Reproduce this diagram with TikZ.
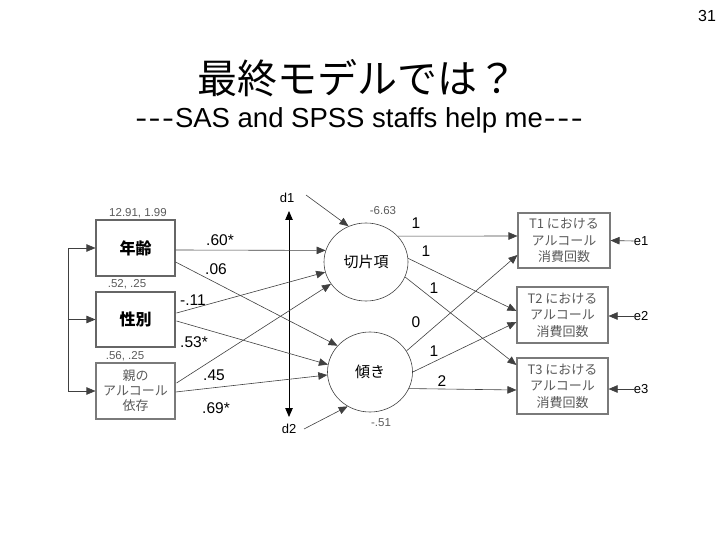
\documentclass[tikz,border=0pt]{standalone}
\usepackage{fontspec}
\setmainfont{Liberation Sans}
\newfontfamily\cjk{Noto Sans CJK JP}
\usetikzlibrary{shapes.geometric,arrows.meta,calc}
\definecolor{boxgray}{HTML}{7A7A7A}
\definecolor{txtgray}{HTML}{5A5A5A}
\definecolor{linegray}{HTML}{404040}
\tikzset{
  obsbox/.style={draw=boxgray,line width=1.1pt,rectangle,inner sep=0pt},
  latent/.style={draw=linegray,line width=0.6pt,ellipse,inner sep=0pt},
  arr/.style={draw=linegray,line width=0.6pt,-{Triangle[length=9pt,width=7.5pt]}},
  dbl/.style={draw=black,line width=0.8pt,{Triangle[length=9pt,width=7.5pt]}-{Triangle[length=9pt,width=7.5pt]}},
  plain/.style={draw=linegray,line width=0.6pt},
  coef/.style={font=\fontsize{15.5}{16}\selectfont,inner sep=0pt},
  small/.style={font=\fontsize{11.5}{12}\selectfont,text=txtgray,inner sep=0pt},
  boxtxt/.style={font=\cjk\fontsize{13}{16.5}\selectfont,text=txtgray,align=center,inner sep=0pt},
  lab/.style={font=\fontsize{13}{14}\selectfont,inner sep=0pt}
}
\newcommand{\tridash}{\scalebox{1.3}[1]{-}\kern1.5pt\scalebox{1.3}[1]{-}\kern1.5pt\scalebox{1.3}[1]{-}}
\begin{document}
\begin{tikzpicture}[x=1pt,y=-1pt]
\useasboundingbox (0,0) rectangle (720,540);
% titles
\node[inner sep=0pt,font=\fontsize{16}{17}\selectfont] (num) at (707,16) {31};
\node[inner sep=0pt,font=\cjk\fontsize{40}{42}\selectfont] (title) at (357,78) {最終モデルでは？};
\node[inner sep=0pt,font=\fontsize{27.5}{30}\selectfont] (sub) at (359,120) {\tridash\kern1pt SAS and SPSS staffs help me\kern1pt\tridash};
% observed exogenous
\node[obsbox,draw=linegray!80,minimum width=79pt,minimum height=56pt,font=\cjk\bfseries\fontsize{16}{17}\selectfont] (age) at (135.5,248) {年齢};
\node[obsbox,draw=linegray!80,minimum width=79pt,minimum height=55pt,font=\cjk\bfseries\fontsize{16}{17}\selectfont] (sex) at (135.5,319.5) {性別};
\node[obsbox,minimum width=79pt,minimum height=56pt,boxtxt,font=\cjk\fontsize{13}{15}\selectfont] (par) at (135.5,391) {親の\\アルコール\\依存};
\node[small] (m1) at (138,213) {12.91, 1.99};
\node[small] (m2) at (127,284) {.52, .25};
\node[small] (m3) at (125,356) {.56, .25};
% latent
\node[latent,minimum width=84pt,minimum height=78pt,font=\cjk\fontsize{15}{16}\selectfont] (int) at (366,262) {切片項};
\node[latent,minimum width=85pt,minimum height=80pt,font=\cjk\fontsize{15}{16}\selectfont] (slope) at (370,372) {傾き};
\node[small] (iv) at (383,211) {-6.63};
\node[small] (sv) at (381,423) {-.51};
% outcomes
\node[obsbox,minimum width=92pt,minimum height=55pt,boxtxt] (T1) at (564,240.5) {T1 における\\アルコール\\消費回数};
\node[obsbox,minimum width=91pt,minimum height=56pt,boxtxt] (T2) at (562.5,315) {T2 における\\アルコール\\消費回数};
\node[obsbox,minimum width=91pt,minimum height=56pt,boxtxt] (T3) at (562.5,386) {T3 における\\アルコール\\消費回数};
\node[lab] (e1) at (641,241) {e1};
\node[lab] (e2) at (641,316) {e2};
\node[lab] (e3) at (641,389) {e3};
\node[lab] (d1) at (287,198) {d1};
\node[lab] (d2) at (289,429) {d2};
% left bracket
\coordinate (lt) at (68,248);
\coordinate (lm) at (68,319.5);
\coordinate (lb) at (68,391);
\draw[plain] (lt) -- (lb);
\draw[arr] (lt) -- (age.west);
\draw[arr] (lm) -- (sex.west);
\draw[arr] (lb) -- (par.west);
% d1 d2 double arrow
\coordinate (vt) at (289,211);
\coordinate (vb) at (289,417);
\draw[dbl] (vt) -- (vb);
\coordinate (d1s) at (306,195);
\coordinate (d2s) at (304,429);
\draw[arr] (d1s) -- (int.116);
\draw[arr] (d2s) -- (slope.237);
% exogenous -> latent
\draw[arr] ($(age.east)+(0,2)$) -- (int.164);
\draw[arr] ($(age.east)+(0,14)$) -- (slope.141);
\draw[arr] ($(sex.east)+(1,-6.5)$) -- (int.194);
\draw[arr] ($(sex.east)+(1,1.5)$) -- (slope.170);
\draw[arr] ($(par.east)+(1,-8)$) -- (int.212);
\draw[arr] ($(par.east)+(0,1)$) -- (slope.184);
% latent -> outcomes
\draw[arr] (int.39) -- ($(T1.west)+(0,-4.5)$);
\draw[arr] (int.5) -- ($(T2.west)+(0,-4)$);
\draw[arr] (int.-21) -- ($(T3.west)+(0,-21)$);
\draw[arr] (slope.30) -- ($(T1.west)+(0,14.5)$);
\draw[arr] (slope.0) -- ($(T2.west)+(0,7)$);
\draw[arr] (slope.-23) -- ($(T3.west)+(0,4)$);
% errors
\draw[arr] (e1.west) -- (T1.east);
\draw[arr] (e2.west) -- (T2.east|-e2);
\draw[arr] (e3.west) -- (T3.east|-e3);
% coefficients
\node[coef] (c1) at (220,240) {.60*};
\node[coef] (c2) at (216,269) {.06};
\node[coef] (c3) at (193,300) {-.11};
\node[coef] (c4) at (194,342) {.53*};
\node[coef] (c5) at (214,375) {.45};
\node[coef] (c6) at (216,408) {.69*};
\node[coef] (l1) at (416,223) {1};
\node[coef] (l2) at (426,251) {1};
\node[coef] (l3) at (434,288) {1};
\node[coef] (l4) at (416,322) {0};
\node[coef] (l5) at (434,351) {1};
\node[coef] (l6) at (442,381) {2};
\end{tikzpicture}
\end{document}
